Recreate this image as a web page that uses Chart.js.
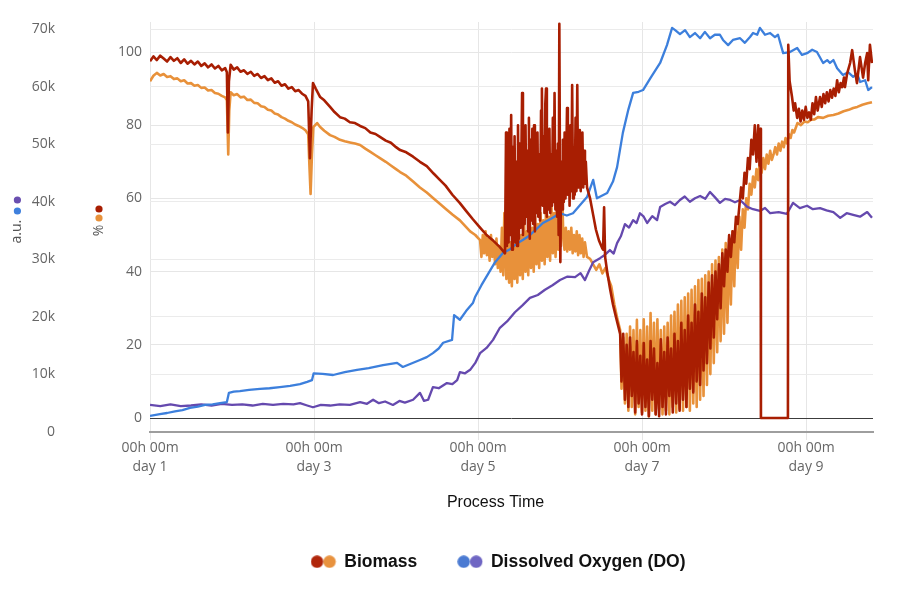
<!DOCTYPE html>
<html><head><meta charset="utf-8">
<script src="https://cdn.jsdelivr.net/npm/chart.js@4.4.1/dist/chart.umd.min.js"></script>
<style>html,body{margin:0;padding:0;background:#fff;}#wrap{width:900px;height:600px;}</style>
</head><body><div id="wrap"><canvas id="c" width="900" height="600"></canvas></div>
<script>
// ---- DATA (time in hours since day 1 00h 00m) ----
const xTickValues = [0, 48, 96, 144, 192];
const xTickLabels = [["00h 00m","day 1"],["00h 00m","day 3"],["00h 00m","day 5"],["00h 00m","day 7"],["00h 00m","day 9"]];
const auTickValues = [0,10000,20000,30000,40000,50000,60000,70000];
const auTickLabels = ["0","10k","20k","30k","40k","50k","60k","70k"];
const pctTickValues = [0,20,40,60,80,100];
const pctTickLabels = ["0","20","40","60","80","100"];

// Biomass (%), dark red trace
const biomassRed = [[0,97.5],[1,98.8],[2,97.8],[3,99.0],[4,98.2],[5,97.4],[6,98.6],[7,97.6],[8,98.3],[9,97.0],[10,98.0],[11,96.8],[12,97.6],[13,96.6],[14,97.4],[15,96.2],[16,96.9],[17,95.8],[18,96.6],[19,95.5],[20,96.2],[21,95.0],[22,95.6],[22.5,94.5],[22.8,78],[23.1,92],[23.6,96.5],[24.5,95.2],[25.5,95.8],[26.5,94.6],[27.5,95.0],[28.5,94.0],[29.5,94.6],[30.5,93.5],[31.5,94.0],[32.5,92.9],[33.5,93.4],[34.5,92.3],[35.5,92.8],[36.5,91.6],[37.5,92.0],[38.5,90.8],[39.5,91.2],[40.5,90.0],[41.5,90.4],[42.5,89.3],[43.5,89.6],[44.5,88.6],[45.5,88.0],[46.3,86.5],[46.8,71],[47.3,84],[47.7,91.5],[48.5,90.0],[49.8,87.7],[51,86.8],[52.7,85.0],[54,83.6],[55.6,82.2],[57,81.8],[58.5,80.8],[60,80.6],[61.5,79.8],[63,79.2],[64.5,78.0],[66,77.6],[67.3,76.8],[69,75.8],[70.5,75.2],[72,74.0],[73.2,73.2],[75,72.6],[77,71.4],[79,70.0],[81,68.8],[83,66.8],[84.9,65.0],[86.5,63.5],[88.5,61.0],[90.7,58.7],[92.5,56.6],[94.5,54.3],[96.6,52.0],[98.5,50.0],[100.5,48.4],[102.4,46.7],[103.9,45.0],
[104.2,78],[104.45,47],[104.7,72],[104.95,48],[105.2,79],[105.45,50],[105.7,82.8],[105.95,46],[106.2,74],[106.45,49],[106.7,77],[106.95,48],[107.2,70],[107.45,47],[107.7,80],[107.95,49],[108.2,75],[108.45,52],[108.7,72],[108.9,88.8],[109.15,50],[109.4,76],[109.65,53],[109.9,80],[110.15,55],[110.4,73],[110.65,51],[110.9,82],[111.15,49],[111.4,76],[111.65,54],[111.9,79],[112.15,53],[112.4,80],[112.65,51],[112.9,74],[113.15,56],[113.4,78],[113.65,55],[113.9,72],[114.15,54],[114.45,84],[114.7,90],[114.95,58],[115.2,77],[115.45,56],[115.7,86],[115.9,90],[116.15,55],[116.4,74],[116.65,57],[116.9,79],[117.15,56],[117.4,72],[117.65,58],[117.9,82],[118.15,59],[118.4,88.8],[118.65,57],[118.9,73],[119.15,55],[119.4,75],[119.6,50],[119.8,107.7],[120.1,42.6],[120.35,70],[120.6,57],[120.85,76],[121.1,59],[121.35,78],[121.6,60],[121.85,72],[122.05,84.7],[122.3,61],[122.55,76],[122.8,58],[123.05,80],[123.3,62],[123.55,91],[123.8,60],[124.05,74],[124.3,61],[124.55,82],[124.8,62],[125.05,91],[125.3,63],[125.55,72],[125.8,78.7],[126.05,62],[126.3,70],[126.55,78],[126.8,63],[127.05,73],[127.3,64],[127.55,70],[127.9,63],
[128.8,60],[129.7,55.5],[130.5,51.5],[131.4,48.5],[132.3,46.5],[132.6,46],[132.9,57.6],[133.2,44],[133.8,40],[134.6,35.5],[135.5,31],[136.4,27.5],[137.6,23],
[138.0,10],[138.5,23],[139.0,5],[139.5,20],[140.0,3],[140.5,22],[141.0,6],[141.5,18],[142.0,1.5],[142.5,21],[143.0,4],[143.5,17],[144.0,1],[144.5,20.5],[145.0,3],[145.5,16],[146.0,0.5],[146.5,21],[147.0,5],[147.5,19],[148.0,1],[148.5,15],[149.0,0.5],[149.5,21.5],[150.0,3],[150.5,18],[151.0,1],[151.5,22],[152.0,6],[152.5,19],[153.0,1.5],[153.5,23],[154.0,4],[154.5,21],[155.0,2],[155.5,26],[156.0,5],[156.5,24],[157.0,3],[157.5,28],[158.0,8],[158.5,26],[159.0,7],[159.5,31],[160.0,10],[160.5,29],[161.0,9],[161.5,34],[162.0,13],[162.5,33],[163.0,15],[163.5,37],[164.0,19],[164.5,39],[165.0,22],[165.5,40],[166.0,27],[166.5,42],[167.0,30],[167.5,45],[168.0,36],[168.5,46],[169.0,40],[169.5,50],[170.0,44],[170.5,51],[171.0,48],[171.5,55],[172.0,53],
[172.5,58],[173.0,63],[173.5,60],[174.0,67],[174.5,64],[175.0,71],[175.5,68],[176.0,76],[176.5,72],[177.0,80],[177.5,70],[178.0,80],[178.4,69],[178.7,79],[178.8,0],[186.7,0],[186.8,102],
[187.2,92],[187.9,87.7],[188.4,84],[188.8,86],[189.4,82],[189.9,84.5],[190.4,81],[190.9,84],[191.4,81.5],[191.9,85],[192.4,82],[192.9,83.5],[193.4,81.5],[193.9,86],[194.4,83],[194.9,87.7],[195.4,84],[196.1,87.7],[196.6,85],[197.1,88.5],[197.6,86],[198.1,89],[198.6,86.5],[199.1,89.6],[199.6,87.5],[200.1,90],[200.6,88],[201.1,92.3],[201.6,89],[202.1,91.5],[202.6,90.4],[203.1,93],[203.4,90.4],[204.0,94],[204.9,97],[205.5,100.5],[206.3,95],[206.9,91.5],[207.8,98.6],[208.7,93],[209.3,97],[209.9,99.7],[210.2,92.3],[210.7,102],[211.3,97]];

// Biomass (%), orange trace
const biomassOrange = [[0,92.0],[1,93.5],[2,94.3],[3,93.6],[4,94.0],[5,93.2],[6,93.4],[7,92.6],[8,92.8],[9,92.0],[10,92.3],[11,91.4],[12,91.5],[13,90.8],[14,91.0],[15,90.2],[16,90.3],[17,89.5],[18,89.6],[19,88.8],[20,88.6],[21,88.0],[22,87.6],[22.5,86.8],[22.9,72],[23.2,84],[23.6,89],[24.5,88.2],[25.5,88.5],[26.5,87.6],[27.5,87.8],[28.5,86.9],[29.5,87.0],[30.5,86.1],[31.5,86.0],[32.5,85.2],[33.5,85.0],[34.5,84.2],[35.5,84.0],[36.5,83.2],[37.5,82.9],[38.5,82.2],[39.5,81.8],[40.5,81.2],[41.5,80.8],[42.5,80.2],[43.5,79.8],[44.5,79.3],[45.5,78.6],[46.3,77.5],[46.7,68],[47.0,61.2],[47.4,72],[47.8,79.5],[48.9,80.6],[49.8,79.5],[51,78.5],[52.7,77.3],[54,76.8],[55.6,76.0],[57,75.6],[58.5,75.3],[60,75.0],[61.5,74.6],[63,73.6],[64.5,72.7],[66,71.8],[67.3,71.0],[69,70.0],[70.5,69.0],[72,68.0],[73.2,67.2],[75,66.2],[77,64.6],[79,63.0],[81,61.6],[83,60.0],[84.9,58.5],[86.5,57.2],[88.5,55.6],[90.7,54],[92.2,52.5],[93.7,51],[95.2,50],[96.6,48.6],
[97.0,44],[97.4,50],[97.8,45],[98.2,51],[98.6,44.5],[99.0,49],[99.4,43],[99.8,50],[100.2,44],[100.6,48],[101.0,42],[101.4,49],[101.8,41],[102.2,47],[102.6,40],[103.0,52],[103.4,39],[103.7,56],
[104.3,38],[104.7,50],[105.1,37],[105.5,48],[105.9,36],[106.3,51],[106.7,38],[107.1,49],[107.5,37],[107.9,52],[108.3,39],[108.7,50],[109.1,38],[109.5,53],[109.9,40],[110.3,51],[110.7,39],[111.1,54],[111.5,41],[111.9,52],[112.3,40],[112.7,55],[113.1,42],[113.5,53],[113.9,41],[114.3,56],[114.7,43],[115.1,54],[115.5,42],[115.9,57],[116.3,44],[116.7,55],[117.1,43],[117.5,58],[117.9,45],[118.3,56],[118.7,44],[119.1,59.6],[119.5,46],[120.0,55],[120.3,47],[120.6,62],[120.9,52],
[121.3,46],[121.7,52],[122.1,45.5],[122.5,51],[122.9,46],[123.3,52],[123.7,45],[124.1,50],[124.5,45.5],[124.9,51],[125.3,44.5],[125.7,50],[126.1,45],[126.5,49],[126.9,44],[127.3,48],[127.9,44],[128.8,43.5],[129.7,42],[130.6,40.5],[131.5,42],[132.4,39.5],[133.3,41],[134.2,38],[135.0,36],[135.9,31],[136.8,27],[137.6,24],
[138.0,8],[138.5,22],[139.0,4],[139.5,23],[140.0,2],[140.5,25],[141.0,3],[141.5,24],[142.0,1],[142.5,26.8],[143.0,3],[143.5,24],[144.0,1.5],[144.5,27],[145.0,2],[145.5,25],[146.0,0.5],[146.5,28.7],[147.0,2],[147.5,26],[148.0,1],[148.5,27],[149.0,2.5],[149.5,24],[150.0,1],[150.5,25],[151.0,2],[151.5,26],[152.0,1],[152.5,28],[153.0,3],[153.5,29],[154.0,1.5],[154.5,31],[155.0,2.5],[155.5,32],[156.0,2],[156.5,33],[157.0,3],[157.5,34],[158.0,2],[158.5,35],[159.0,4],[159.5,36],[160.0,3],[160.5,37.7],[161.0,5],[161.5,38],[162.0,6],[162.5,39],[163.0,9],[163.5,40],[164.0,12],[164.5,42],[165.0,15],[165.5,43],[166.0,18],[166.5,44],[167.0,21],[167.5,46],[168.0,23],[168.5,47.8],[169.0,26],[169.5,49],[170.0,31],[170.5,51],[171.0,36],[171.5,53],[172.0,41],[172.5,55],[173.0,46],[173.5,57],
[174.0,52],[174.5,60],[175.0,57],[175.5,64],[176.0,61],[176.5,66],[177.0,63],[177.5,68],[178.0,65],[178.5,70.5],[179.0,67],[179.5,71],[180.0,68],[180.5,72],[181.0,69.5],[181.5,73],[182.0,70.5],[182.5,72],[183.0,74],[183.5,72],[184.0,75],[184.5,73],[185.0,75.5],[185.5,74],[186.0,76.5],[186.5,75],[187.0,77.5],[187.5,76.5],[188.0,78.7],[188.5,78],[189.5,80.6],[190.5,80],[191.5,81],[192.5,80.8],[193.5,81.5],[194.5,81.6],[195.5,82.2],[197,82],[198.5,82.6],[200,82.8],[201.5,83.2],[203,83.8],[204.5,84.2],[205.8,84.7],[207,85.0],[208.5,85.6],[210,86.0],[211.3,86.3]];

// Dissolved Oxygen (a.u.), blue trace
const doBlue = [[0,2800],[2.9,3100],[5,3300],[7.3,3600],[9.5,3800],[11.7,4200],[14,4400],[16.1,4700],[18.3,4800],[20.5,5000],[22.5,5200],[23.1,6800],[24.5,7000],[26.3,7100],[29,7300],[32.2,7500],[35,7600],[38,7800],[41,8000],[43.9,8300],[46,8700],[47.4,9000],[47.9,10200],[50.5,10100],[53.6,9900],[57,10400],[60.6,10800],[64,11100],[68.2,11600],[72.3,12000],[74,11300],[76.5,11900],[79,12500],[81,13000],[82.8,13700],[84.5,14500],[85.8,15500],[88.4,16000],[89,20300],[90.7,19500],[92.5,21000],[94.5,22400],[95.1,23400],[97,25500],[99,27500],[101,29500],[103.3,31100],[105.5,31800],[107.5,32800],[109.2,33400],[111,34100],[113,35200],[115,36300],[117.5,37100],[120,38000],[122,37600],[123.8,38000],[126,39500],[127.9,40800],[129.7,43800],[130.8,40600],[133.8,41500],[135.5,43500],[136.7,46000],[138.4,52000],[140,56000],[141.4,58900],[143,59100],[144.3,59400],[146.5,61500],[149.3,64100],[151.3,67200],[152.8,70200],[153.7,69800],[155.1,69100],[156.6,69800],[158,68600],[159.5,69300],[161,68400],[162.4,69500],[163.9,68400],[165.3,69000],[166.8,69000],[167.7,68100],[169.2,67200],[170.6,68100],[172.7,68400],[174.1,67600],[175.6,68600],[176.5,69300],[177.7,69000],[178.5,70200],[180,69000],[181.5,69300],[182.9,68600],[183.8,69000],[185.3,65800],[187.3,66000],[189.4,66700],[190.8,65500],[192.3,65800],[193.8,66400],[195.2,66000],[197,64100],[198.2,64600],[199,64100],[200,64600],[201.1,63200],[202.8,62000],[204.3,62500],[205.8,61700],[207,62200],[207.8,60800],[209.3,61100],[210.2,59400],[211.3,59900]];

// Dissolved Oxygen (a.u.), purple trace
const doPurple = [[0,4700],[3,4500],[6,4800],[9,4500],[12,4600],[15,4800],[18,4600],[21,4900],[24,4700],[27,4800],[30,4600],[33,4900],[36,4700],[39,4900],[42,4800],[43.9,5000],[46,4600],[47.7,4300],[50,4700],[52.7,4600],[55.5,4800],[58.5,4700],[61.5,5200],[63.5,4900],[65.3,5600],[67,5000],[68.8,5300],[71.1,4700],[73,5400],[74.6,5100],[77,5600],[79,6800],[80.2,5400],[81.4,5600],[82.8,7800],[84.5,7600],[86.9,8500],[88.5,8300],[89.9,9000],[90.7,10400],[92.2,10200],[93.7,10800],[95.2,12000],[96.6,13700],[98.5,14600],[100.4,16000],[102.4,18100],[104.5,19200],[106.8,20800],[109,22000],[111.2,23300],[113.5,23800],[115.6,24700],[117.8,25500],[120,26400],[122.2,27000],[124.4,26900],[126,27600],[127.3,26400],[128.5,28000],[129.7,29500],[131.7,30200],[133.2,30800],[134.6,31600],[135.7,31000],[136.7,32800],[137.8,34000],[139,36100],[140.2,35500],[141.4,36800],[142.4,36300],[143.4,38000],[144.5,37400],[145.5,36300],[147,37500],[148.4,36800],[149.3,39100],[150.8,39600],[152.2,40000],[153.6,39400],[155.1,40300],[156.5,40900],[158,40000],[159.5,40600],[161,41000],[162.5,40500],[163.9,41700],[165.3,40800],[166.8,39800],[168.3,40500],[169.8,40300],[171.2,39900],[172.7,40300],[174.8,39100],[176.5,38700],[178.5,38400],[180,38900],[181.5,38000],[184,38200],[186.4,37900],[188.2,39800],[190.2,38900],[192.3,39300],[194,38700],[196.1,38900],[198,38500],[200,38200],[202,37200],[203.9,38000],[205.8,37700],[207.8,37400],[209.9,38200],[211.3,37200]];

// axis ranges
const X_MIN = 0, X_MAX = 211.6;
const AU_MIN = 0, AU_MAX = 71216;
const PCT_MIN = -3.825, PCT_MAX = 108.2;

// ---- STYLE ----
const C_RED = '#a81e02', C_ORANGE = '#e8913a', C_BLUE = '#3c7fdc', C_PURPLE = '#6549ae';
const SANS = "'Open Sans', 'Noto Sans', sans-serif";
const ARIAL = "'Liberation Sans', Arial, sans-serif";
Chart.defaults.font.family = SANS;

const toXY = arr => arr.map(p => ({x: p[0], y: p[1]}));

function dotsImage(c1, c2) {
  const cv = document.createElement('canvas');
  cv.width = 26; cv.height = 13;
  const g = cv.getContext('2d');
  g.fillStyle = c1; g.beginPath(); g.arc(6.5, 6.5, 6.2, 0, Math.PI * 2); g.fill();
  g.fillStyle = c2; g.beginPath(); g.arc(19, 6.5, 6.2, 0, Math.PI * 2); g.fill();
  return cv;
}
const bioDots = dotsImage('#b0260b', '#e8923e');
const doDots = dotsImage('#4a7ad2', '#6f66c3');

const AU_TITLE_PAD = 9, PCT_TITLE_PAD = 28.6;

const axisDots = {
  id: 'axisDots',
  afterDraw(chart) {
    const {ctx, chartArea, scales} = chart;
    const mid = (chartArea.top + chartArea.bottom) / 2;
    const dot = (x, y, c) => { ctx.beginPath(); ctx.arc(x, y, 3.6, 0, Math.PI * 2); ctx.fillStyle = c; ctx.fill(); };
    ctx.save();
    const xa = scales.yAU.left + AU_TITLE_PAD + 8.4;
    dot(xa, mid - 27, '#6a4fb0'); dot(xa, mid - 16, '#3f80dd');
    const xp = scales.yPct.left + PCT_TITLE_PAD + 8.4;
    dot(xp, mid - 18, C_RED); dot(xp, mid - 9, C_ORANGE);
    ctx.restore();
  }
};
const legendShift = {
  id: 'legendShift',
  afterLayout(chart) {
    if (chart.legend) { chart.legend.left -= 13; chart.legend.right -= 13; }
  }
};

const lineDefaults = {pointRadius: 0, pointHoverRadius: 0, tension: 0, fill: false, borderJoinStyle: 'round'};

new Chart(document.getElementById('c'), {
  type: 'line',
  data: {
    datasets: [
      Object.assign({label: 'Biomass', data: toXY(biomassRed), yAxisID: 'yPct', borderColor: C_RED, borderWidth: 2.6}, lineDefaults),
      Object.assign({label: 'Dissolved Oxygen (DO)', data: toXY(doBlue), yAxisID: 'yAU', borderColor: C_BLUE, borderWidth: 2.3}, lineDefaults),
      Object.assign({label: 'DO 2', data: toXY(doPurple), yAxisID: 'yAU', borderColor: C_PURPLE, borderWidth: 2.3}, lineDefaults),
      Object.assign({label: 'Biomass 2', data: toXY(biomassOrange), yAxisID: 'yPct', borderColor: C_ORANGE, borderWidth: 2.6}, lineDefaults)
    ]
  },
  plugins: [axisDots, legendShift],
  options: {
    responsive: false,
    animation: false,
    devicePixelRatio: 1,
    layout: {padding: {top: 22, right: 27, bottom: 19.5, left: 0}},
    plugins: {
      tooltip: {enabled: false},
      legend: {
        position: 'bottom',
        fullSize: false,
        onClick: () => {},
        labels: {
          usePointStyle: true,
          pointStyleWidth: 24,
          padding: 41,
          color: '#111',
          font: {family: ARIAL, size: 17.5, weight: 'bold'},
          generateLabels: () => [
            {text: 'Biomass', pointStyle: bioDots, fontColor: '#111', fillStyle: C_RED, strokeStyle: C_RED, lineWidth: 0, hidden: false, datasetIndex: 0},
            {text: 'Dissolved Oxygen (DO)', pointStyle: doDots, fontColor: '#111', fillStyle: C_BLUE, strokeStyle: C_BLUE, lineWidth: 0, hidden: false, datasetIndex: 1}
          ]
        }
      }
    },
    scales: {
      x: {
        type: 'linear', position: 'bottom', min: X_MIN, max: X_MAX,
        afterBuildTicks: s => { s.ticks = xTickValues.map(v => ({value: v})); },
        afterFit: s => { s.height = 80; },
        ticks: {autoSkip: false, maxRotation: 0, padding: -1, color: '#666', font: {size: 14, lineHeight: 1.35},
          callback: (v, i) => xTickLabels[i]},
        grid: {color: '#e6e6e6', tickColor: '#e6e6e6', tickLength: 8, drawTicks: true},
        border: {display: true, color: '#9e9e9e', width: 2},
        title: {display: true, text: 'Process Time\u2003\u2003', color: '#111', font: {family: ARIAL, size: 16}, padding: {top: 0, bottom: 0}}
      },
      yAU: {
        type: 'linear', position: 'left', weight: 1, min: AU_MIN, max: AU_MAX,
        afterBuildTicks: s => { s.ticks = auTickValues.map(v => ({value: v})); },
        afterFit: s => { s.width = 62; },
        ticks: {padding: 7, color: '#666', font: {size: 14}, callback: (v, i) => auTickLabels[i]},
        grid: {color: '#ebebeb', drawTicks: false},
        border: {display: false},
        title: {display: true, text: 'a.u.\u2002\u2009', color: '#555', font: {size: 14}, padding: {top: AU_TITLE_PAD, bottom: 0}}
      },
      yPct: {
        type: 'linear', position: 'left', weight: 0, min: PCT_MIN, max: PCT_MAX,
        afterBuildTicks: s => { s.ticks = pctTickValues.map(v => ({value: v})); },
        afterFit: s => { s.width = 88; },
        ticks: {padding: 8, color: '#666', font: {size: 14}, callback: (v, i) => pctTickLabels[i]},
        grid: {color: ctx => (ctx.tick && ctx.tick.value === 0) ? '#3c3c3c' : '#e6e6e6', drawTicks: false},
        border: {display: false},
        title: {display: true, text: '%\u2002', color: '#555', font: {size: 14}, padding: {top: PCT_TITLE_PAD, bottom: 0}}
      }
    }
  }
});
</script></body></html>
